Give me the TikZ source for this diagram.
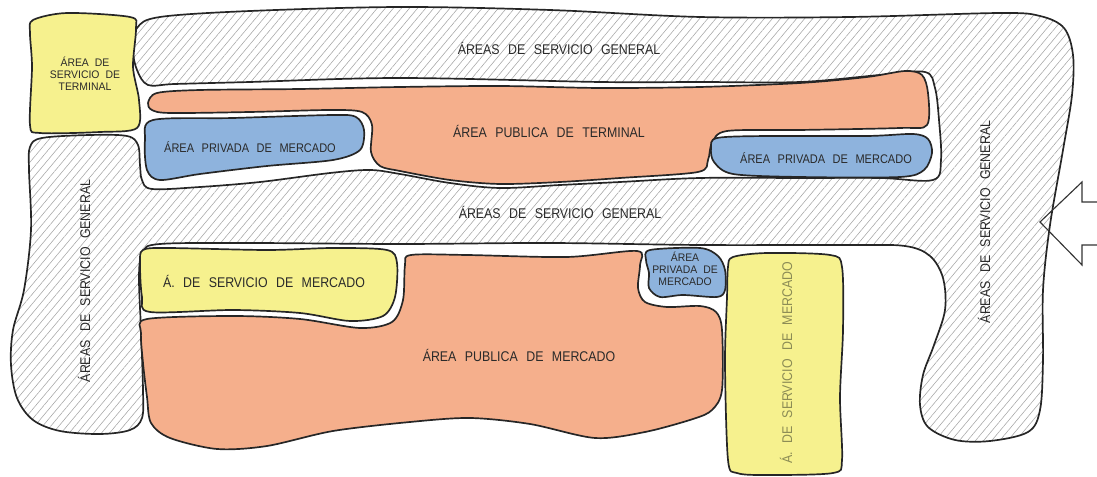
\documentclass[tikz,border=0pt]{standalone}
\usepackage{fontspec}
\usepackage{tikz}
\usetikzlibrary{patterns.meta}
\newfontfamily\planfont{Liberation Sans}[FakeStretch=0.88]
\newfontfamily\plansmallfont{Liberation Sans}[FakeStretch=0.95]
\newcommand\planlabel{\planfont\fontsize{10}{11.5}\selectfont\spaceskip=0.6em\relax}
\newcommand\planmid{\planfont\fontsize{8.9}{10}\selectfont\spaceskip=0.6em\relax}
\newcommand\plansmall{\plansmallfont\fontsize{7.8}{8.4}\selectfont\spaceskip=0.55em\relax}
\definecolor{servyellow}{RGB}{246,241,142}
\definecolor{pubsalmon}{RGB}{245,175,140}
\definecolor{privblue}{RGB}{142,179,221}
\definecolor{labelgray}{RGB}{42,42,42}
\definecolor{labelolive}{RGB}{140,140,85}

\begin{document}
\begin{tikzpicture}[x=0.025cm, y=-0.025cm,
        zone/.style={draw=black!85, line width=1.2pt, line join=round},
        hatched/.style={zone, pattern={Lines[angle=50,distance=4.4pt,line width=0.4pt]}, pattern color=black!35},
        lbl/.style={font=\planlabel, text=labelgray, inner sep=0pt},
        privlbl/.style={lbl, font=\planmid},
        smalllbl/.style={lbl, font=\plansmall, align=center}]
        \useasboundingbox (0,0) rectangle (1097,477);

        \draw[hatched] plot[smooth cycle, tension=0.55] coordinates {
            (148,85) (137,70) (133,50) (137,28) (160,17) (250,11) (400,7) (550,10) (700,17) (850,17)
            (1000,13) (1040,16) (1064,28) (1073,55) (1072,95) (1063,150) (1050,225) (1043,290) (1043,360)
            (1040,410) (1028,432) (990,441) (955,440) (928,427) (920,405) (923,375) (934,345) (945,310)
            (943,278) (930,256) (905,246) (850,245) (700,245) (550,243) (400,244) (250,243) (160,244)
            (143,252) (139,275) (141,330) (143,390) (142,418) (130,430) (100,434) (60,431) (33,420)
            (17,398) (11,365) (13,330) (24,290) (31,230) (29,170) (30,147) (42,138) (90,135) (127,136)
            (138,145) (140,165) (142,180) (152,189) (200,187) (260,182) (330,173) (370,170) (400,174)
            (450,183) (500,188) (560,185) (620,182) (700,178) (800,178) (880,178) (933,180) (941,160)
            (939,120) (935,88) (925,72) (880,75) (800,82) (700,82) (600,82) (400,78) (250,82) (175,84)};

        \draw[zone, fill=servyellow] plot[smooth cycle] coordinates {
            (33,20) (67,13) (130,17) (136,28) (133,67) (139,100) (137,128) (100,132) (40,133) (30,125) (32,67) (30,33)};
        \draw[zone, fill=pubsalmon] plot[smooth cycle] coordinates {
            (148,103) (157,93) (200,90) (300,89) (400,87) (500,86) (600,88) (700,87) (800,83) (867,77)
            (905,71) (922,75) (928,93) (927,125) (900,128) (800,130) (727,131) (712,143) (708,160) (698,172)
            (620,178) (560,182) (500,184) (450,180) (400,171) (380,166) (371,152) (372,125) (362,112)
            (330,110) (250,112) (170,113) (152,110)};
        \draw[zone, fill=privblue] plot[smooth cycle] coordinates {
            (153,120) (233,118) (333,115) (356,117) (364,130) (360,150) (333,160) (267,166) (200,174)
            (160,180) (147,170) (145,140)};
        \draw[zone, fill=privblue] plot[smooth cycle] coordinates {
            (717,138) (767,136) (867,136) (913,134) (928,139) (932,153) (924,170) (900,177) (800,177)
            (733,174) (714,162) (711,148)};

        \draw[zone, fill=servyellow] plot[smooth cycle] coordinates {
            (143,250) (167,248) (267,250) (333,248) (387,250) (397,263) (395,297) (383,316) (350,321)
            (300,313) (233,310) (150,312) (142,297) (140,263)};
        \draw[zone, fill=pubsalmon] plot[smooth cycle] coordinates {
            (147,319) (233,316) (300,319) (360,328) (392,322) (403,300) (405,265) (411,255) (467,255)
            (567,257) (637,251) (640,265) (638,288) (645,302) (667,307) (700,306) (716,312) (722,330)
            (722,390) (712,410) (693,419) (645,432) (595,438) (530,424) (470,418) (410,422)
            (333,431) (267,446) (217,449) (170,438) (151,423) (147,397) (143,363) (141,333)};
        \draw[zone, fill=privblue] plot[smooth cycle] coordinates {
            (650,250) (700,248) (718,256) (725,270) (725,290) (717,297) (683,295) (660,297) (649,288)
            (649,273) (646,260)};
        \draw[zone, fill=servyellow] plot[smooth cycle] coordinates {
            (733,257) (767,253) (830,255) (842,267) (843,330) (840,397) (842,460) (833,473) (767,475)
            (737,473) (728,460) (725,363) (727,297) (728,267)};

        \draw[black!80, line width=0.8pt, line join=miter]
            (1097,202) -- (1082,202) -- (1082,182) -- (1040,222) -- (1082,265) -- (1082,245) -- (1097,245);

        \node[lbl] (topserv) at (559,48) {ÁREAS DE SERVICIO GENERAL};
        \node[lbl] (midserv) at (560,212) {ÁREAS DE SERVICIO GENERAL};
        \node[lbl, rotate=90] (leftserv) at (84,281) {ÁREAS DE SERVICIO GENERAL};
        \node[lbl, rotate=90] (rightserv) at (984,222) {ÁREAS DE SERVICIO GENERAL};
        \node[smalllbl] (termserv) at (85,74) {ÁREA DE\\SERVICIO DE\\TERMINAL};
        \node[lbl] (termpub) at (549,131) {ÁREA PUBLICA DE TERMINAL};
        \node[privlbl] (privl) at (250,147) {ÁREA PRIVADA DE MERCADO};
        \node[privlbl] (privr) at (826,158) {ÁREA PRIVADA DE MERCADO};
        \node[lbl] (mercserv) at (264,281) {Á. DE SERVICIO DE MERCADO};
        \node[lbl] (mercpub) at (519,355) {ÁREA PUBLICA DE MERCADO};
        \node[smalllbl] (privsm) at (685,269) {ÁREA\\PRIVADA DE\\MERCADO};
        \node[lbl, rotate=90, text=labelolive] (mercvert) at (786,363) {Á. DE SERVICIO DE MERCADO};
    \end{tikzpicture}
\end{document}
